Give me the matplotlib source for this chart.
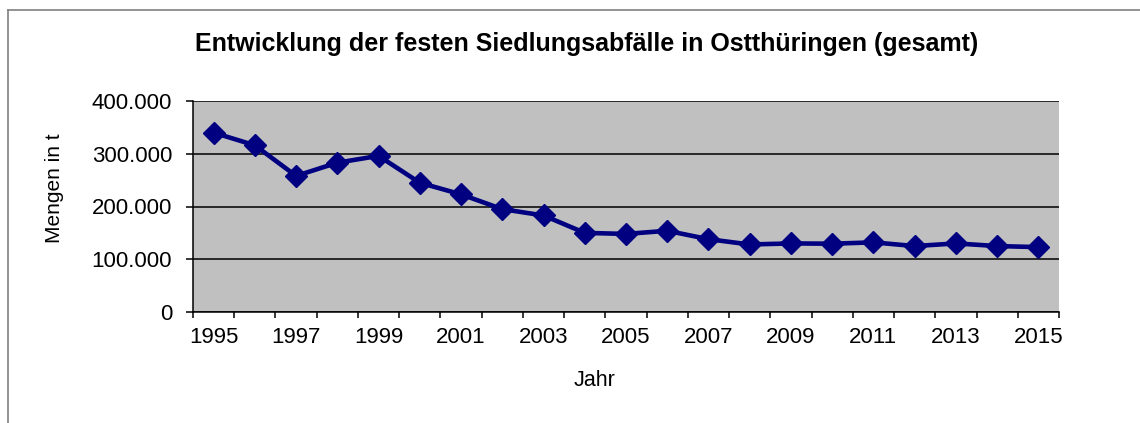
import matplotlib
matplotlib.use("Agg")
import matplotlib.pyplot as plt
from matplotlib.ticker import FuncFormatter, FixedLocator
from matplotlib.lines import Line2D

years = list(range(1995, 2016))
mengen = [340000, 316000, 258000, 283000, 296000, 245000, 223000, 195000, 183000,
          150000, 148000, 154000, 138000, 128000, 130000, 129500, 132000, 125000,
          130000, 125000, 123000]
y_ticks = [0, 100000, 200000, 300000, 400000]
title = "Entwicklung der festen Siedlungsabfälle in Ostthüringen (gesamt)"
x_label = "Jahr"
y_label = "Mengen in t"

plt.rcParams['font.family'] = ['Liberation Sans', 'DejaVu Sans']

fig = plt.figure(figsize=(11.4, 4.23), dpi=100)
fig.patch.set_facecolor('white')
ax = fig.add_axes([193/1140, 1-312/423, (1059-193)/1140, (312-101)/423])
ax.set_facecolor('#C0C0C0')

idx = list(range(len(years)))
ax.plot(idx, mengen, color='#000080', lw=3.3, marker='D', markersize=11,
        markerfacecolor='#000080', markeredgecolor='#000080', zorder=3, clip_on=False)

ax.set_xlim(-0.5, len(years) - 0.5)
ax.set_ylim(0, 400000)
ax.yaxis.set_major_locator(FixedLocator(y_ticks))
ax.yaxis.set_major_formatter(FuncFormatter(lambda v, p: f"{int(v):,}".replace(",", ".")))
ax.grid(axis='y', color='black', lw=1.1, zorder=1)
ax.set_axisbelow(True)

# category boundaries as major ticks, labels on every second category
ax.xaxis.set_major_locator(FixedLocator([i - 0.5 for i in range(len(years) + 1)]))
ax.xaxis.set_major_formatter(FuncFormatter(lambda v, p: ""))
ax.xaxis.set_minor_locator(FixedLocator(idx[::2]))
ax.xaxis.set_minor_formatter(FuncFormatter(lambda v, p: str(years[int(round(v))])))
ax.tick_params(axis='x', which='major', direction='out', length=4, width=1.1, color='black')
ax.tick_params(axis='x', which='minor', length=0, pad=11, labelsize=16)
ax.tick_params(axis='y', direction='out', length=5, width=1.1, pad=10, labelsize=16)

for s in ['top', 'right']:
    ax.spines[s].set_visible(False)
for s in ['left', 'bottom']:
    ax.spines[s].set_color('black')
    ax.spines[s].set_linewidth(1.1)

fig.text(586.5/1140, 1-44/423, title, ha='center', va='center', fontsize=18, fontweight='bold')
fig.text(595/1140, 1-380/423, x_label, ha='center', va='center', fontsize=15.5)
fig.text(54/1140, 1-188/423, y_label, ha='center', va='center', rotation=90, fontsize=15)

# outer frame (cut off at right and bottom)
fig.add_artist(Line2D([8/1140, 8/1140], [0, 1-10/423], transform=fig.transFigure, color='#808080', lw=1.2))
fig.add_artist(Line2D([8/1140, 1], [1-10/423, 1-10/423], transform=fig.transFigure, color='#808080', lw=1.2))

fig.savefig("out.png", dpi=100)
